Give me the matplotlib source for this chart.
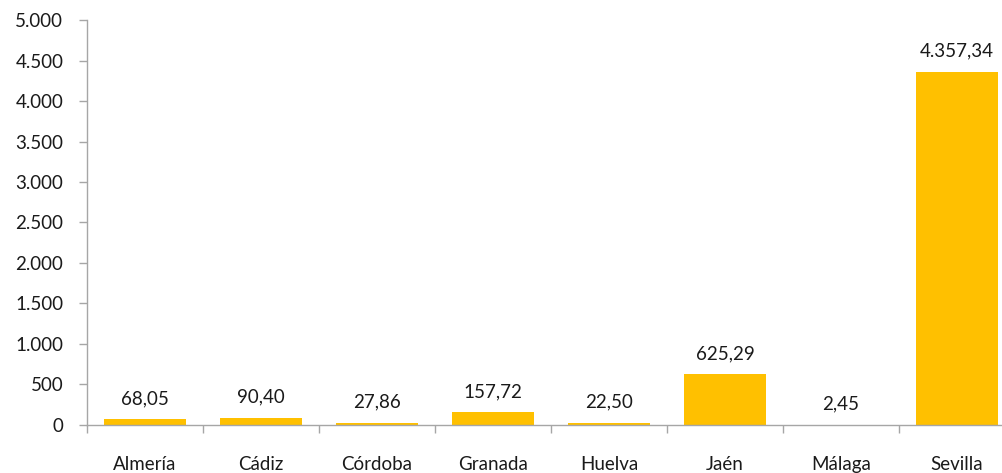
import numpy as np
import matplotlib.pyplot as plt
from matplotlib.ticker import FuncFormatter, FixedLocator

provincias = ['Almería', 'Cádiz', 'Córdoba', 'Granada', 'Huelva', 'Jaén', 'Málaga', 'Sevilla']
valores = [68.05, 90.40, 27.86, 157.72, 22.50, 625.29, 2.45, 4357.34]
yticks = [0, 500, 1000, 1500, 2000, 2500, 3000, 3500, 4000, 4500, 5000]


def formatoEs(v, decimales=0):
    s = f"{v:,.{decimales}f}"
    return s.replace(',', 'X').replace('.', ',').replace('X', '.')


plt.rcParams['font.family'] = ['Lato', 'DejaVu Sans']
plt.rcParams['font.size'] = 13.5

fig = plt.figure(figsize=(10.02, 4.73), dpi=100)
# el eje continua un poco fuera de la imagen por la derecha
ax = fig.add_axes([0.0868, 0.1015, 0.9262, 0.8562])

x = np.arange(len(provincias))
ax.bar(x, valores, width=0.71, color='#FFC000')

for xi, v in zip(x, valores):
    ax.annotate(formatoEs(v, 2), (xi, v), xytext=(0, 15), textcoords='offset points',
                ha='center', va='center', color='#1a1a1a')

ax.set_xlim(-0.5, len(provincias) - 0.5)
ax.set_ylim(0, 5000)
ax.set_yticks(yticks)
ax.yaxis.set_major_formatter(FuncFormatter(lambda v, p: formatoEs(v)))

# ticks en los limites entre categorias, etiquetas en el centro
ax.xaxis.set_major_locator(FixedLocator(np.arange(-0.5, len(provincias), 1.0)))
ax.xaxis.set_major_formatter(FuncFormatter(lambda v, p: ''))
ax.xaxis.set_minor_locator(FixedLocator(x))
ax.set_xticklabels(provincias, minor=True)
ax.tick_params(axis='x', which='major', length=6, color='#A6A6A6', width=1)
ax.tick_params(axis='x', which='minor', length=0, pad=22, labelcolor='#1a1a1a')
ax.tick_params(axis='y', length=6, color='#A6A6A6', width=1, pad=11, labelcolor='#1a1a1a')

for lado in ['top', 'right']:
    ax.spines[lado].set_visible(False)
for lado in ['left', 'bottom']:
    ax.spines[lado].set_color('#A6A6A6')
    ax.spines[lado].set_linewidth(1)

fig.savefig('out.png', dpi=100)
